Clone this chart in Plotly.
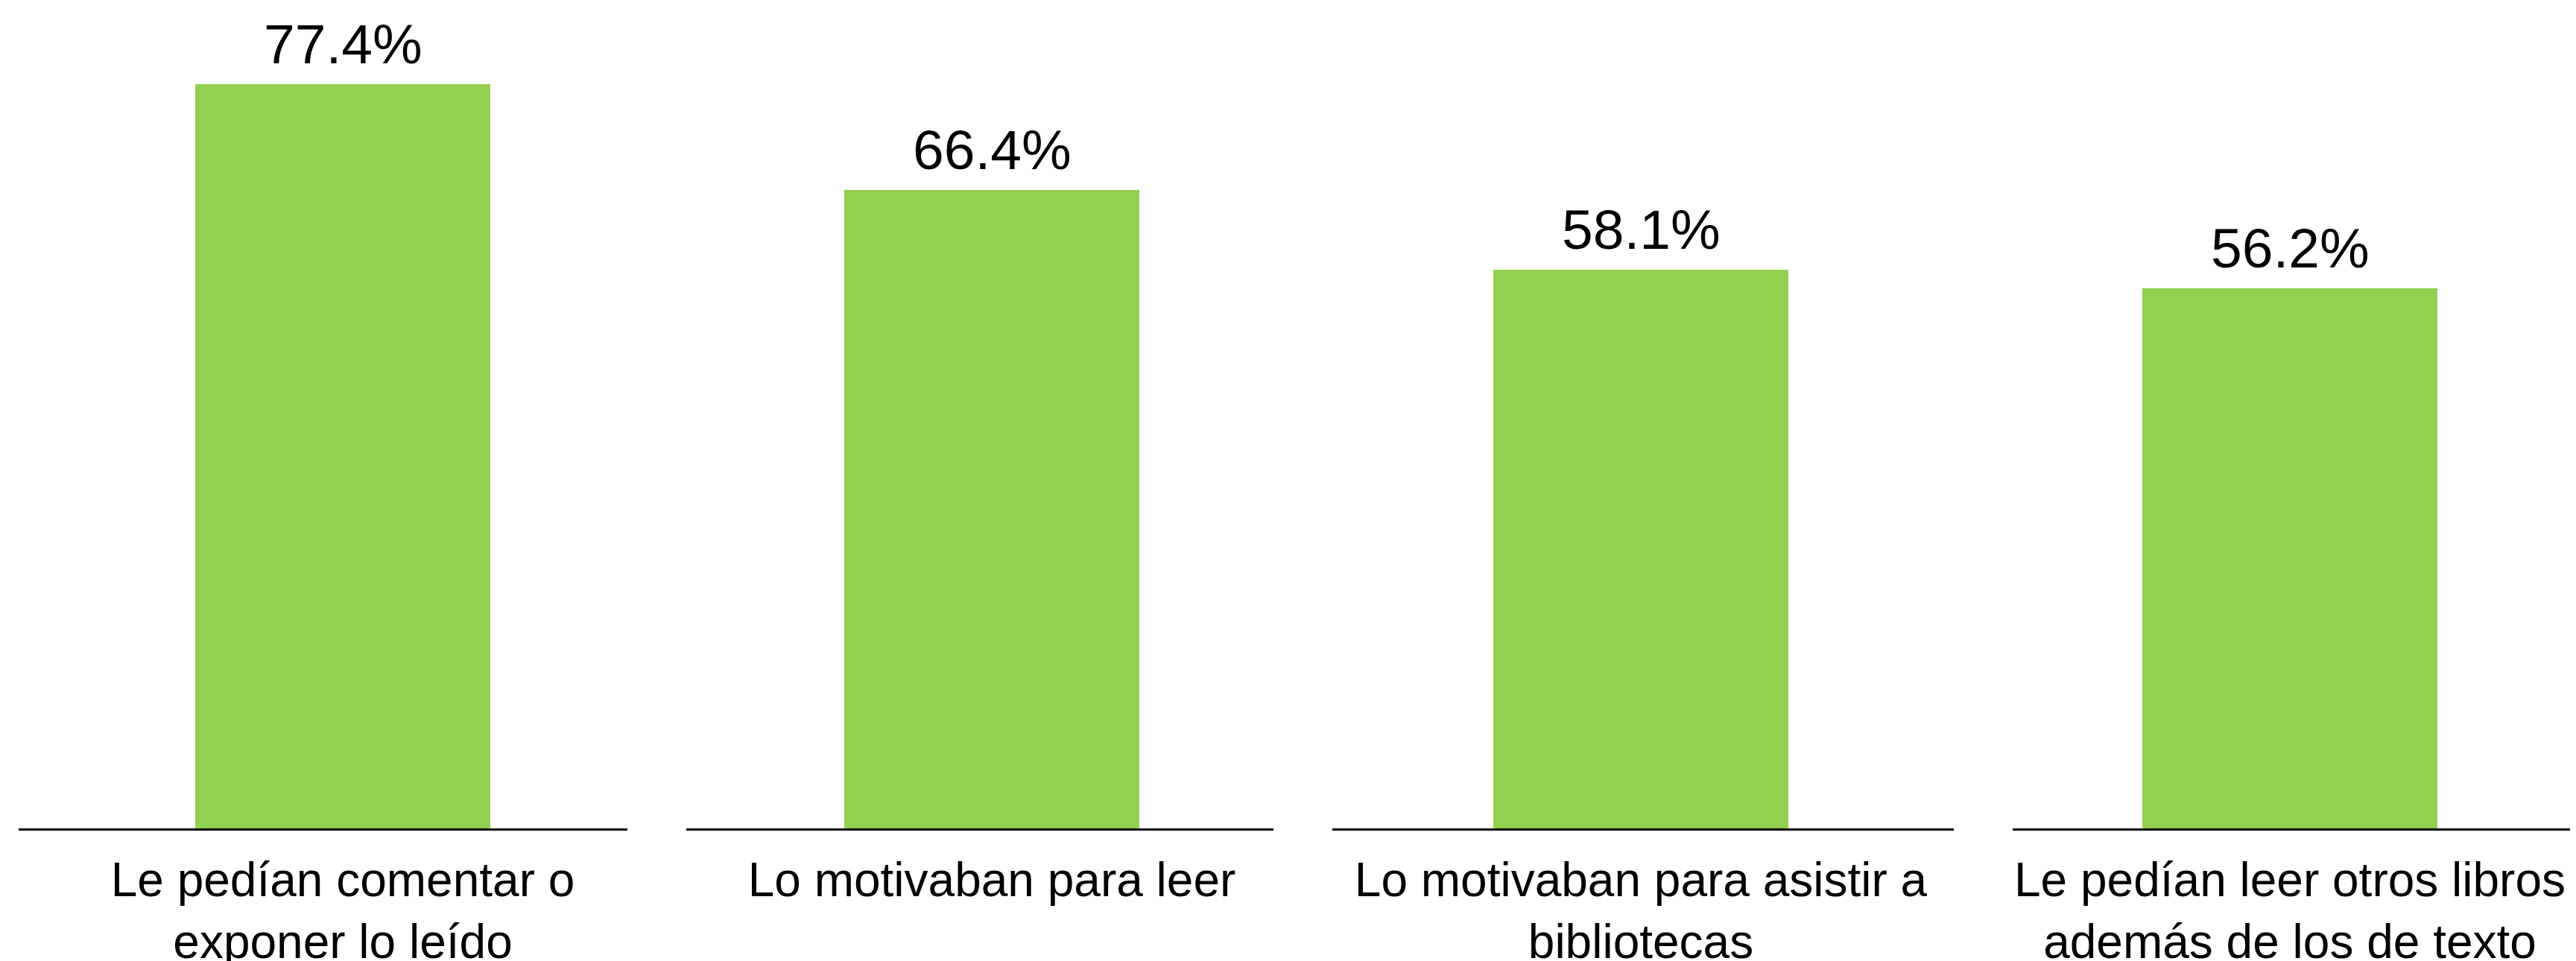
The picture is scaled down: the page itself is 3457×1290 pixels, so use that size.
import plotly.graph_objects as go

categories = [
    "Le pedían comentar o<br>exponer lo leído",
    "Lo motivaban para leer",
    "Lo motivaban para asistir a<br>bibliotecas",
    "Le pedían leer otros libros<br>además de los de texto",
]
values = [77.4, 66.4, 58.1, 56.2]

W, H = 3457, 1290
OFF = 8  # browser body margin
BAR_COLOR = "#92D050"
FONT = "Liberation Sans, Arial, sans-serif"

# pixel layout of each category panel on the page: (left, right, bar centre)
panels = [(25, 842, 460), (921, 1709, 1331), (1788, 2622, 2202), (2701, 3457, 3073)]
BAR_PX = 396
AXIS_Y = 1112 - OFF

fig = go.Figure()
for i, (cat, val) in enumerate(zip(categories, values)):
    n = "" if i == 0 else str(i + 1)
    fig.add_trace(go.Bar(
        x=[cat], y=[val], width=[1.0],
        marker=dict(color=BAR_COLOR, line=dict(width=0)),
        showlegend=False, hoverinfo="x+y",
        xaxis="x" + n, yaxis="y" + n,
    ))
    fig.add_annotation(
        x=cat, y=val, xref="x" + n, yref="y" + n,
        text=f"{val:.1f}%", showarrow=False,
        yanchor="bottom", xanchor="center", yshift=10,
        font=dict(size=75, color="black", family=FONT),
    )
    a, b, c = [p - OFF for p in panels[i]]
    fig.update_layout(**{
        "xaxis" + n: dict(
            domain=[a / W, min(b / W, 1)],
            range=[-(c - a) / BAR_PX, (b - c) / BAR_PX],
            type="category",
            showline=True, linecolor="black", linewidth=2.5,
            showgrid=False, zeroline=False, ticks="",
            ticklabelstandoff=11, automargin=False,
            tickfont=dict(size=64, color="black", family=FONT),
            anchor="y" + n, fixedrange=True,
        ),
        "yaxis" + n: dict(
            domain=[0, 1], range=[0, AXIS_Y / 12.907],
            showline=False, showgrid=False, zeroline=False,
            showticklabels=False, ticks="", automargin=False,
            anchor="x" + n, fixedrange=True,
        ),
    })

fig.update_layout(
    width=W, height=H,
    margin=dict(l=0, r=0, t=0, b=H - AXIS_Y, autoexpand=False),
    paper_bgcolor="white", plot_bgcolor="white",
    font=dict(family=FONT, color="black"),
    bargap=0,
)

fig.write_html("out.html")
